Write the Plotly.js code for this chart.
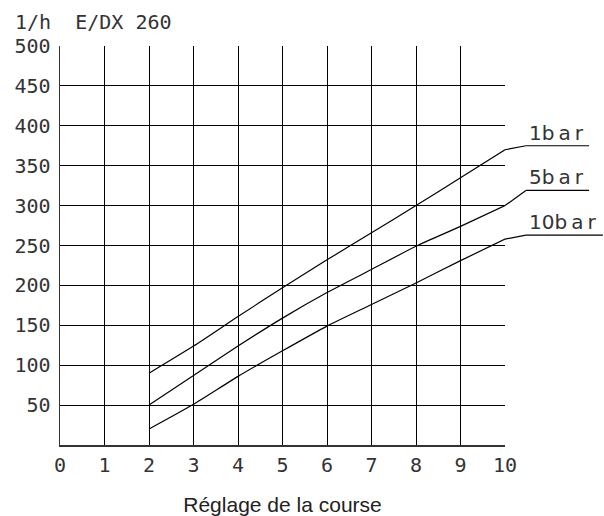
<!DOCTYPE html>
<html>
<head>
<meta charset="utf-8">
<script src="https://cdn.plot.ly/plotly-3.0.1.min.js"></script>
<style>html,body{margin:0;padding:0;background:#fff;}#chart{width:604px;height:516px;}</style>
</head>
<body>
<div id="chart"></div>
<script>
const stroke = [2, 3, 4, 5, 6, 7, 8, 9, 10];
const flow1bar = [90, 124, 161, 197, 232, 266, 300, 335, 370];
const flow5bar = [50, 87, 124, 159, 191, 220, 249, 274, 300];
const flow10bar = [20, 51, 86, 118, 149, 176, 203, 231, 258];
const seriesNames = ['1bar', '5bar', '10bar'];
const xTicks = [0, 1, 2, 3, 4, 5, 6, 7, 8, 9, 10];
const yTicks = [50, 100, 150, 200, 250, 300, 350, 400, 450, 500];
const unitLabel = '1/h  E/DX 260';
const xTitle = 'Réglage de la course';

const series = [flow1bar, flow5bar, flow10bar];
const YMAX = 500;
const tickFont = {family: 'DejaVu Sans Mono', size: 20, color: '#333'};

const traces = series.map((ys, i) => ({
  x: stroke, y: ys, type: 'scatter', mode: 'lines', name: seriesNames[i],
  line: {color: '#000', width: 1.2, shape: 'spline', smoothing: 0.6},
  hoverinfo: 'x+y+name'
}));

const labelRise = [5, 19, 5];
const shapes = [];
const annotations = [];
series.forEach((ys, i) => {
  const yEnd = ys[ys.length - 1] / YMAX;
  const yLab = (ys[ys.length - 1] + labelRise[i]) / YMAX;
  const xEndLine = i === 2 ? 1.220 : 1.189;
  shapes.push({type: 'line', xref: 'paper', yref: 'paper', x0: 1, y0: yEnd, x1: 1.047, y1: yLab,
               line: {color: '#000', width: 1.2}});
  shapes.push({type: 'line', xref: 'paper', yref: 'paper', x0: 1.047, y0: yLab, x1: xEndLine, y1: yLab,
               line: {color: '#000', width: 1.2}});
  const spaced = seriesNames[i].replace('bar', 'b\u2009a\u2009r');
  annotations.push({xref: 'paper', yref: 'paper', x: 1.05, y: yLab, xanchor: 'left', yanchor: 'bottom',
                    text: spaced, showarrow: false, yshift: -1,
                    font: {family: 'DejaVu Sans', size: 20, color: '#333'}});
});
annotations.push({xref: 'paper', yref: 'paper', x: -0.105, y: 1.06, xanchor: 'left', yanchor: 'middle',
                  text: unitLabel, showarrow: false, font: {family: 'DejaVu Sans Mono', size: 20, color: '#333'}});

const layout = {
  width: 604, height: 516,
  margin: {l: 59.5, r: 99, t: 45.7, b: 70.5},
  paper_bgcolor: '#fff', plot_bgcolor: '#fff',
  showlegend: false,
  xaxis: {
    range: [0, 10], tickvals: xTicks, ticktext: xTicks.map(String),
    showgrid: true, gridcolor: '#000', gridwidth: 1,
    zeroline: false, showline: true, linecolor: '#333', linewidth: 1.5, mirror: false,
    ticks: '', tickfont: tickFont, ticklabelstandoff: 1,
    title: {text: xTitle, font: {family: 'Liberation Sans', size: 21, color: '#222'}, standoff: 22}
  },
  yaxis: {
    range: [0, 500], tickvals: yTicks, ticktext: yTicks.map(String),
    showgrid: true, gridcolor: '#000', gridwidth: 1,
    zeroline: false, showline: true, linecolor: '#333', linewidth: 1.5, mirror: false,
    ticks: '', tickfont: tickFont, ticklabelstandoff: 4
  },
  shapes: shapes,
  annotations: annotations
};

Plotly.newPlot('chart', traces, layout, {displayModeBar: false, staticPlot: true});
</script>
</body>
</html>
